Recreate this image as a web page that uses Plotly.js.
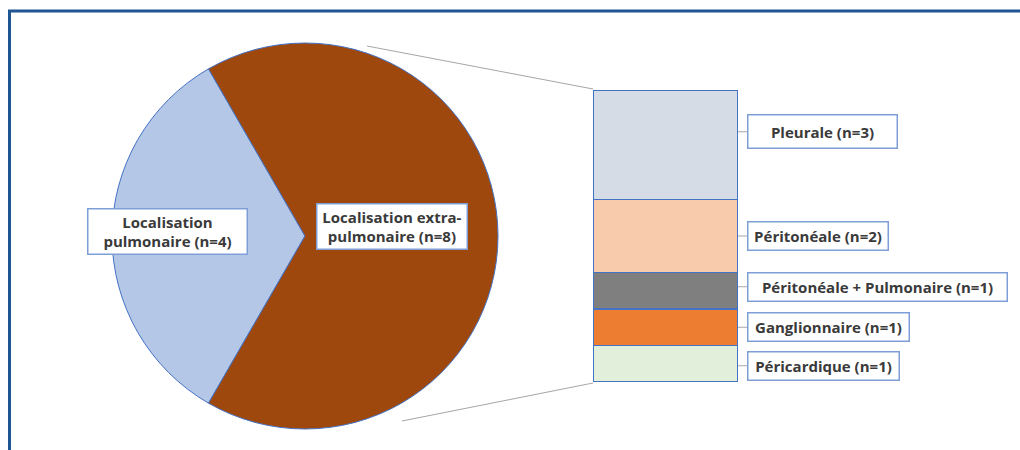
<!DOCTYPE html>
<html>
<head>
<meta charset="utf-8">
<script src="https://cdn.plot.ly/plotly-3.0.1.min.js"></script>
<style>html,body{margin:0;padding:0;background:#fff;}#chart{width:1020px;height:450px;}</style>
</head>
<body>
<div id="chart"></div>
<script>
// Pie data
const pieLabels = ["Localisation<br>pulmonaire (n=4)", "Localisation extra-<br>pulmonaire (n=8)"];
const pieValues = [4, 8];
const pieColors = ["#B4C7E7", "#9E480E"];

// Breakdown of extra-pulmonary (stacked bar, listed bottom to top)
const barCategories = ["Péricardique", "Ganglionnaire", "Péritonéale + Pulmonaire", "Péritonéale", "Pleurale"];
const barValues = [1, 1, 1, 2, 3];
const barColors = ["#E2EFDA", "#ED7D31", "#7F7F7F", "#F8CBAD", "#D6DCE5"];
const barLabelWidths = [150, 160, 258, 139, 148];
const barLabelOffsets = [2, 0, -4, 0, -13];

const W = 1020, H = 450;
const px = x => x / W;
const py = y => 1 - y / H;
const FONT = "'Open Sans', sans-serif";
const TXT = "#3A3A3A";
const BOX = "#7E9FD6";

const traces = [];
traces.push({
  type: "pie",
  values: pieValues,
  labels: pieLabels,
  marker: {colors: pieColors, line: {color: "#4472C4", width: 1}},
  sort: false,
  direction: "clockwise",
  rotation: -150,
  textinfo: "none",
  hoverinfo: "label+value",
  showlegend: false,
  domain: {x: [px(112), px(498)], y: [py(429), py(43)]}
});

barCategories.forEach((c, i) => {
  traces.push({
    type: "bar",
    x: [0],
    y: [barValues[i]],
    name: c,
    width: 1,
    marker: {color: barColors[i], line: {color: "#4472C4", width: 1.5}},
    xaxis: "x",
    yaxis: "y",
    showlegend: false,
    hoverinfo: "name+y"
  });
});

const yTop = 90, yBot = 382;
const barDomain = [py(yBot), py(yTop)];
const total = barValues.reduce((a, b) => a + b, 0);
const unit = (yBot - yTop) / total;

const annotations = [];
const shapes = [];

// pie labels
annotations.push({
  xref: "paper", yref: "paper", x: px(167), y: py(231),
  text: "<b>" + pieLabels[0] + "</b>", showarrow: false,
  font: {family: FONT, size: 15, color: TXT},
  bgcolor: "#ffffff", bordercolor: BOX, borderwidth: 1.5, borderpad: 2,
  width: 154, align: "center", xanchor: "center", yanchor: "middle"
});
annotations.push({
  xref: "paper", yref: "paper", x: px(392), y: py(226.5),
  text: "<b>" + pieLabels[1] + "</b>", showarrow: false,
  font: {family: FONT, size: 15, color: TXT},
  bgcolor: "#ffffff", bordercolor: BOX, borderwidth: 1.5, borderpad: 2,
  width: 145, align: "center", xanchor: "center", yanchor: "middle"
});

// bar labels
let cum = 0;
barCategories.forEach((c, i) => {
  const mid = yBot - (cum + barValues[i] / 2) * unit;
  cum += barValues[i];
  const yc = mid + barLabelOffsets[i];
  annotations.push({
    xref: "paper", yref: "paper", x: px(747), y: py(yc),
    text: "<b>" + c + " (n=" + barValues[i] + ")</b>", showarrow: false,
    font: {family: FONT, size: 15, color: TXT},
    bgcolor: "#ffffff", bordercolor: BOX, borderwidth: 1.5, borderpad: 0,
    width: barLabelWidths[i], height: i === 4 ? 32 : 27, align: "center",
    xanchor: "left", yanchor: "middle"
  });
  shapes.push({type: "line", xref: "paper", yref: "paper",
    x0: px(738), x1: px(747), y0: py(yc), y1: py(yc),
    line: {color: "#A6A6A6", width: 1}});
});

// connector lines pie -> bar
shapes.push({type: "line", xref: "paper", yref: "paper",
  x0: px(367), y0: py(46), x1: px(593), y1: py(yTop - 1),
  line: {color: "#A6A6A6", width: 1}});
shapes.push({type: "line", xref: "paper", yref: "paper",
  x0: px(402), y0: py(421), x1: px(593), y1: py(yBot + 1),
  line: {color: "#A6A6A6", width: 1}});

// frame
shapes.push({type: "line", xref: "paper", yref: "paper",
  x0: px(8), y0: py(11), x1: px(1020), y1: py(11),
  line: {color: "#1F5592", width: 3}});
shapes.push({type: "line", xref: "paper", yref: "paper",
  x0: px(9.5), y0: py(10), x1: px(9.5), y1: py(450),
  line: {color: "#1F5592", width: 3}});

const layout = {
  width: W, height: H,
  margin: {l: 0, r: 0, t: 0, b: 0},
  paper_bgcolor: "#ffffff",
  plot_bgcolor: "rgba(0,0,0,0)",
  barmode: "stack",
  bargap: 0,
  showlegend: false,
  xaxis: {domain: [px(593), px(738)], range: [-0.5, 0.5], visible: false, fixedrange: true},
  yaxis: {domain: barDomain, range: [0, total], visible: false, fixedrange: true},
  annotations: annotations,
  shapes: shapes,
  font: {family: FONT}
};

Plotly.newPlot("chart", traces, layout, {displayModeBar: false, staticPlot: true});
</script>
</body>
</html>
